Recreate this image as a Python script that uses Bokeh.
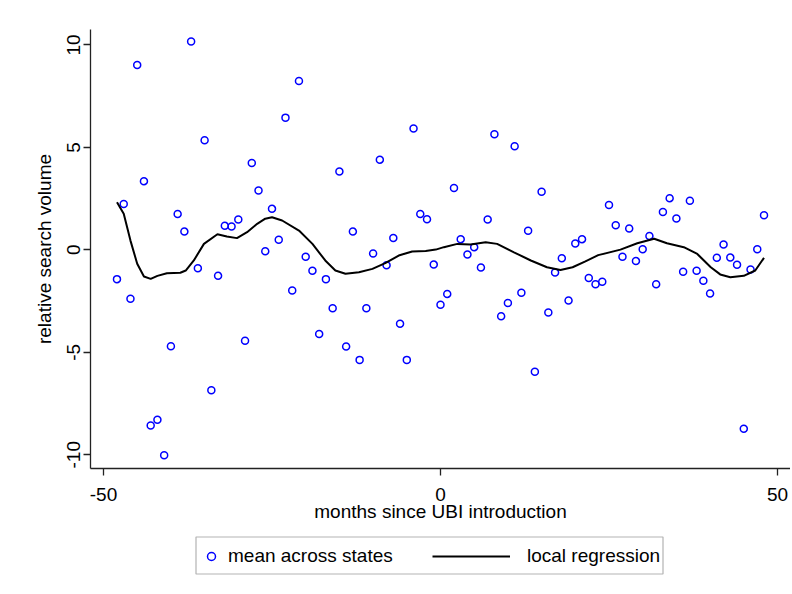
from bokeh.plotting import figure
from bokeh.layouts import column
from bokeh.models import Legend, LegendItem, FixedTicker, Range1d, BoxAnnotation
from bokeh.embed import file_html
from bokeh.resources import INLINE

# ---- data ----
months = list(range(-48, 49))
mean_values = [
    -1.43, 2.23, -2.39, 9.02, 3.35, -8.57, -8.29, -10.02, -4.70, 1.75,
    0.89, 10.16, -0.90, 5.35, -6.85, -1.27, 1.17, 1.14, 1.48, -4.44,
    4.24, 2.89, -0.07, 2.00, 0.49, 6.45, -1.99, 8.24, -0.34, -1.02,
    -4.11, -1.43, -2.85, 3.82, -4.72, 0.89, -5.37, -2.85, -0.18, 4.40,
    -0.75, 0.58, -3.61, -5.37, 5.92, 1.75, 1.49, -0.72, -2.68, -2.15,
    3.02, 0.52, -0.23, 0.13, -0.86, 1.48, 5.64, -3.24, -2.59, 5.05,
    -2.10, 0.93, -5.95, 2.83, -3.06, -1.11, -0.41, -2.47, 0.31, 0.52,
    -1.37, -1.68, -1.56, 2.19, 1.20, -0.34, 1.04, -0.55, 0.03, 0.68,
    -1.68, 1.85, 2.52, 1.53, -1.07, 2.39, -1.02, -1.51, -2.13, -0.39,
    0.26, -0.38, -0.73, -8.73, -0.96, 0.03, 1.69,
]

fit_months = [
    -48, -47, -46, -45, -44, -43, -42, -40.6, -38.6, -37.8, -36.6, -35.1,
    -33.1, -31.7, -30.2, -28.7, -27.2, -26, -25, -23.5, -21, -19, -17.1,
    -15.6, -14.1, -12.1, -10.1, -8.2, -6.2, -4.2, -2.2, -0.7, 0.5, 2.5,
    4.45, 6.7, 8.4, 10.9, 13.4, 15.8, 17.8, 19.6, 21.5, 23.4, 26.7, 29.2,
    31.7, 33.6, 36.1, 38.1, 40.1, 41.5, 43, 45, 46.7, 48,
]
fit_values = [
    2.32, 1.76, 0.45, -0.68, -1.30, -1.42, -1.27, -1.14, -1.12, -1.01, -0.52, 0.29,
    0.76, 0.65, 0.57, 0.86, 1.27, 1.52, 1.59, 1.43, 0.94, 0.29, -0.52,
    -1.01, -1.17, -1.09, -0.93, -0.65, -0.28, -0.08, -0.06, 0.01, 0.13, 0.29,
    0.26, 0.37, 0.29, -0.12, -0.52, -0.85, -0.98, -0.85, -0.56, -0.26, 0.01, 0.32,
    0.54, 0.32, 0.13, -0.20, -0.85, -1.20, -1.34, -1.27, -1.01, -0.39,
]

x_ticks = [-50, 0, 50]
x_tick_labels = {-50: "-50", 0: "0", 50: "50"}
y_ticks = [-10, -5, 0, 5, 10]
y_tick_labels = {-10: "-10", -5: "-5", 0: "0", 5: "5", 10: "10"}
legend_labels = ["mean across states", "local regression"]

FONT = "Liberation Sans"
FS = "19px"
BLUE = "#0000ff"
NAN = float("nan")

# ---- main plot ----
p = figure(
    width=790, height=530,
    output_backend="svg", toolbar_location=None,
    x_range=Range1d(-51.93, 51.93), y_range=Range1d(-10.67, 10.75),
    min_border_left=90, min_border_right=0, min_border_top=29, min_border_bottom=62,
    background_fill_color="white", border_fill_color="white",
)
p.grid.visible = False
p.outline_line_color = None

for ax in (p.xaxis[0], p.yaxis[0]):
    ax.axis_line_color = "#222222"
    ax.axis_line_width = 1.3
    ax.major_tick_line_color = "#222222"
    ax.major_tick_line_width = 1.3
    ax.major_tick_out = 7
    ax.major_tick_in = 0
    ax.minor_tick_line_color = None
    ax.major_label_text_font = FONT
    ax.major_label_text_font_size = FS
    ax.major_label_text_color = "black"
    ax.axis_label_text_font = FONT
    ax.axis_label_text_font_size = FS
    ax.axis_label_text_font_style = "normal"
    ax.axis_label_text_color = "black"

p.xaxis.ticker = FixedTicker(ticks=x_ticks)
p.xaxis.major_label_overrides = x_tick_labels
p.xaxis.axis_label = "months since UBI introduction"
p.xaxis.major_label_standoff = 12
p.xaxis.axis_label_standoff = -3

p.yaxis.ticker = FixedTicker(ticks=y_ticks)
p.yaxis.major_label_overrides = y_tick_labels
p.yaxis.major_label_orientation = "vertical"
p.yaxis.axis_label = "relative search volume"
p.yaxis.major_label_standoff = 3
p.yaxis.axis_label_standoff = 10

p.scatter(months, mean_values, marker="circle", size=7,
          fill_color=None, line_color=BLUE, line_width=1.5)
p.line(fit_months, fit_values, line_color="black", line_width=2)

# ---- legend strip below (frame spans page x 90..790, so x units = page px) ----
lg = figure(
    width=790, height=62,
    output_backend="svg", toolbar_location=None,
    x_range=Range1d(90, 790), y_range=Range1d(0, 62),
    x_axis_type=None, y_axis_type=None,
    min_border_left=90, min_border_right=0, min_border_top=0, min_border_bottom=0,
    background_fill_color="white", border_fill_color="white",
)
lg.grid.visible = False
lg.outline_line_color = None

key_sc = lg.scatter(x=[NAN], y=[NAN], marker="circle", size=6,
                    fill_color=None, line_color=BLUE, line_width=1.5)
key_ln = lg.line(x=[NAN, NAN], y=[NAN, NAN], line_color="black", line_width=2)

lg.add_layout(BoxAnnotation(left=195.5, right=662.5, bottom=18.5, top=55.5,
                            fill_color=None, fill_alpha=0,
                            line_color="black", line_width=1.2))

common = dict(
    orientation="horizontal", border_line_color=None,
    background_fill_alpha=0, padding=0, margin=0,
    label_text_font=FONT, label_text_font_size=FS, label_text_color="black",
    glyph_height=20,
)
leg_a = Legend(items=[LegendItem(label=legend_labels[0], renderers=[key_sc])],
               location=(111, 25), glyph_width=20, label_standoff=7, **common)
leg_b = Legend(items=[LegendItem(label=legend_labels[1], renderers=[key_ln])],
               location=(342, 25), glyph_width=78, label_standoff=17, **common)
lg.add_layout(leg_a, "center")
lg.add_layout(leg_b, "center")

layout = column(p, lg, spacing=0)
open("out.html", "w").write(file_html(layout, INLINE))
